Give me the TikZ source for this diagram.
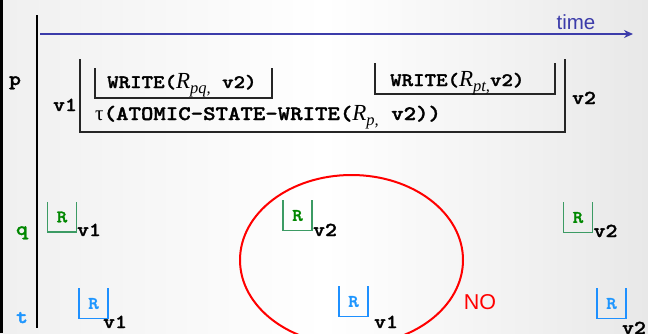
\documentclass[tikz,border=0pt]{standalone}
\usepackage{fontspec}
\newfontfamily\cour{lmmonolt10-bold}[Extension=.otf, FakeStretch=1.15, FakeBold=1.6]
\newfontfamily\sansfam{Liberation Sans}
\newfontfamily\seriffam{Liberation Serif}
\usetikzlibrary{shapes.geometric,fit,arrows.meta}
\definecolor{timeblue}{RGB}{60,60,170}
\definecolor{qgreen}{RGB}{0,135,0}
\definecolor{qline}{RGB}{60,155,100}
\definecolor{tblue}{RGB}{30,150,255}
\definecolor{tline}{RGB}{30,144,255}
% register name R with an italic subscript
\newcommand{\Rs}[1]{{\seriffam\itshape\fontsize{23}{23}\selectfont R\raisebox{-5pt}{\fontsize{16.5}{16.5}\selectfont #1}}}
\tikzset{
  lbl/.style={font=\cour\fontsize{19.8}{19.8}\selectfont, inner sep=0, anchor=base},
  optext/.style={font=\cour\fontsize{19}{19}\selectfont, inner sep=0, anchor=base west},
  frame/.style={inner sep=0, outer sep=0},
  rbox/.style={minimum width=29pt, minimum height=30pt, inner sep=0, font=\cour\fontsize{17.5}{17.5}\selectfont},
  bracket/.style={line width=2pt, black!85},
  opbracket/.style={line width=1.5pt, black!85},
}
\begin{document}
\begin{tikzpicture}[x=1pt,y=-1pt]
\useasboundingbox (0,0) rectangle (648,333);
\clip (0,0) rectangle (648,333);
% background
\shade[left color=black!6, right color=black!9, middle color=white] (0,0) rectangle (648,333);
\draw[line width=3pt] (1.5,0) -- (1.5,333);

% time axis
\coordinate (t0) at (40,34);
\coordinate (t1) at (633,34);
\draw[timeblue, line width=1.5pt, -{Stealth[length=9pt,width=8pt]}] (t0) -- (t1);
\node[font=\sansfam\fontsize{20.5}{20.5}\selectfont, text=timeblue, anchor=base, inner sep=0] (time) at (576,29) {time};

% process axis
\coordinate (axtop) at (37,15);
\coordinate (axbot) at (37,328);
\draw[line width=2pt] (axtop) -- (axbot);

% process names
\node[lbl] (p) at (15,85) {p};
\node[lbl, text=qgreen] (q) at (22,235) {q};
\node[lbl, text=tblue] (t) at (22,323) {t};

% atomic state-write of p
\node[frame, fit={(80,59)(565,132)}] (atomic) {};
\draw[bracket] (atomic.north west) |- (atomic.south east) -- (atomic.north east);
\node[lbl] (pv1) at (65,111) {v1};
\node[lbl] (pv2) at (584,104) {v2};

\node[frame, fit={(95,68)(272,98)}] (wb1) {};
\node[frame, fit={(375,63)(555,94)}] (wb2) {};
\foreach \n in {wb1,wb2}
  \draw[opbracket] (\n.north west) |- (\n.south east) -- (\n.north east);
\node[optext] (w1) at (107,88) {WRITE(\Rs{pq,} v2)};
\node[optext] (w2) at (390,86) {WRITE(\Rs{pt,}v2)};
\node[optext, font=\cour\fontsize{20.6}{20.6}\selectfont] (tau) at (95,120)
  {{\seriffam\fontsize{21}{21}\selectfont τ}(ATOMIC-STATE-WRITE(\Rs{p,} v2))};

% reads at q
\node[rbox, text=qgreen] (q1) at (62,217) {R};
\node[rbox, text=qgreen] (q2) at (297.5,215.5) {R};
\node[rbox, text=qgreen] (q3) at (578,217.5) {R};
\foreach \n in {q1,q2,q3}
  \draw[qline, line width=1.5pt] (\n.north west) |- (\n.south east) -- (\n.north east);
\node[lbl] (q1v) at (89,236) {v1};
\node[lbl] (q2v) at (325,236) {v2};
\node[lbl] (q3v) at (605.5,237) {v2};

% reads at t
\node[rbox, text=tblue] (r1) at (93.5,303.5) {R};
\node[rbox, text=tblue] (r2) at (353.5,301.5) {R};
\node[rbox, text=tblue] (r3) at (611.5,303.5) {R};
\foreach \n in {r1,r2,r3}
  \draw[tline, line width=1.5pt] (\n.north west) |- (\n.south east) -- (\n.north east);
\node[lbl] (r1v) at (115,328) {v1};
\node[lbl] (r2v) at (386,328) {v1};
\node[lbl] (r3v) at (634,334) {v2};

% forbidden outcome
\node[draw=red, line width=2pt, ellipse, minimum width=223pt, minimum height=170pt, inner sep=0] (bad) at (351.5,260) {};
\node[font=\sansfam\fontsize{21.5}{21.5}\selectfont, text=red, anchor=base, inner sep=0] (no) at (480,309) {NO};
\end{tikzpicture}
\end{document}
